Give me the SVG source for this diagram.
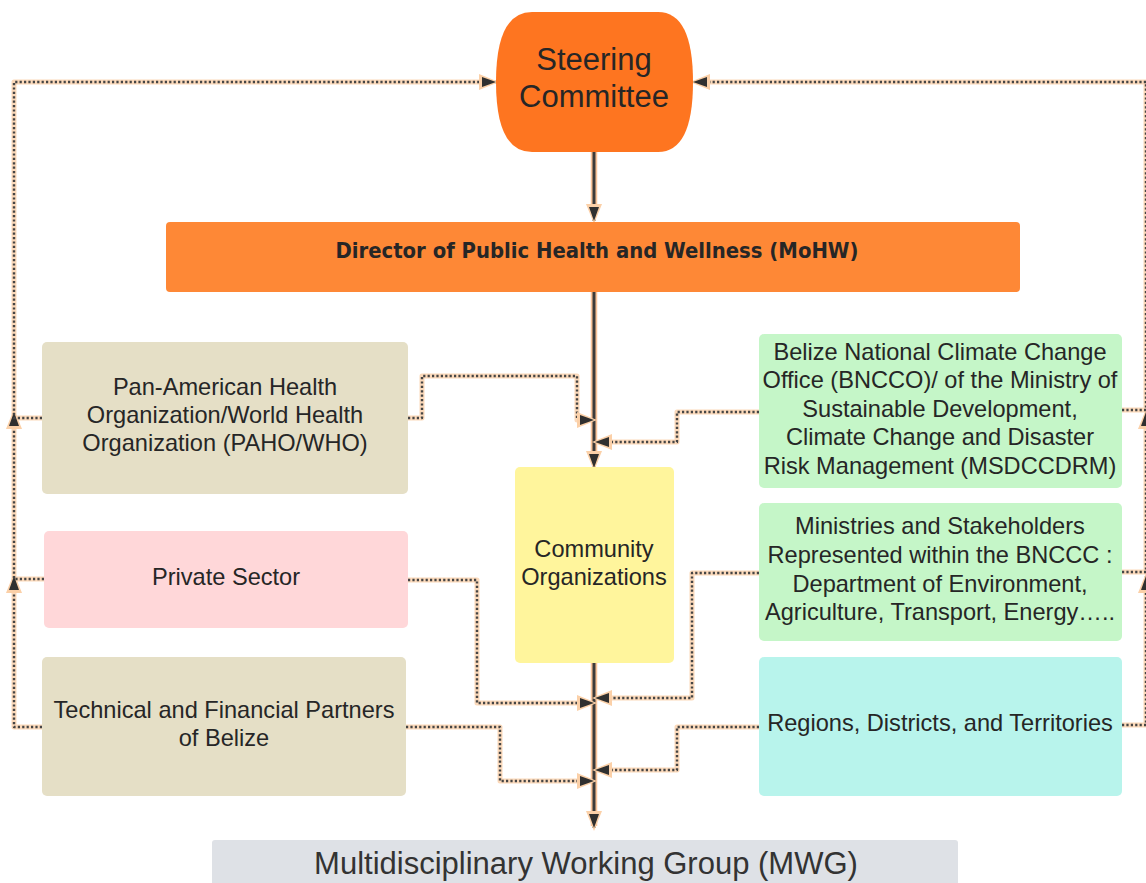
<svg xmlns="http://www.w3.org/2000/svg" width="1146" height="883" viewBox="0 0 1146 883">
<style>
.t{font-family:"Liberation Sans",Arial,sans-serif;font-size:23.6px;fill:#262626;text-anchor:middle}
.halo{fill:none;stroke:#FBD9BA;stroke-width:5;stroke-linejoin:round}
.dot{fill:none;stroke:#454545;stroke-width:2.4;stroke-dasharray:2.2 2.2;stroke-linejoin:round}
.solidhalo{fill:none;stroke:#F9C49A;stroke-width:6.5}
.solid{fill:none;stroke:#3b3b3b;stroke-width:3}
</style>
<defs>
<marker id="ah" markerUnits="userSpaceOnUse" markerWidth="20" markerHeight="16" refX="17" refY="8" orient="auto" viewBox="0 0 20 16">
<path d="M0,0 L20,8 L0,16 Z" fill="#FBD0A8"/>
<path d="M3,3 L17,8 L3,13 Z" fill="#303030"/>
</marker>
</defs>
<rect width="1146" height="883" fill="#ffffff"/>

<g id="connectors">
<path class="solidhalo" d="M594,152 V214"/>
<path class="solidhalo" d="M594,292 V462"/>
<path class="solidhalo" d="M594,663 V826"/>
<path class="halo" d="M42,727 H14 V580"/>
<path class="halo" d="M44,579 H14 V416"/>
<path class="halo" d="M42,418 H14 V82 H490"/>
<path class="halo" d="M1122,725 H1146 V580"/>
<path class="halo" d="M1122,572 H1146 V416"/>
<path class="halo" d="M1122,410 H1146 V82 H698"/>
<path class="halo" d="M408,418 H422 V376 H577 V420 H588"/>
<path class="halo" d="M759,412 H677 V442 H600"/>
<path class="halo" d="M408,580 H477 V703 H588"/>
<path class="halo" d="M759,573 H692 V698 H600"/>
<path class="halo" d="M406,727 H500 V781 H588"/>
<path class="halo" d="M759,727 H677 V770 H600"/>
<path class="solid" d="M594,152 V221" marker-end="url(#ah)"/>
<path class="solid" d="M594,292 V468" marker-end="url(#ah)"/>
<path class="solid" d="M594,663 V828" marker-end="url(#ah)"/>
<path class="dot" d="M42,727 H14 V576" marker-end="url(#ah)"/>
<path class="dot" d="M44,579 H14 V412" marker-end="url(#ah)"/>
<path class="dot" d="M42,418 H14 V82 H496" marker-end="url(#ah)"/>
<path class="dot" d="M1122,725 H1146 V576" marker-end="url(#ah)"/>
<path class="dot" d="M1122,572 H1146 V412" marker-end="url(#ah)"/>
<path class="dot" d="M1122,410 H1146 V82 H693" marker-end="url(#ah)"/>
<path class="dot" d="M408,418 H422 V376 H577 V420 H594" marker-end="url(#ah)"/>
<path class="dot" d="M759,412 H677 V442 H595" marker-end="url(#ah)"/>
<path class="dot" d="M408,580 H477 V703 H594" marker-end="url(#ah)"/>
<path class="dot" d="M759,573 H692 V698 H595" marker-end="url(#ah)"/>
<path class="dot" d="M406,727 H500 V781 H594" marker-end="url(#ah)"/>
<path class="dot" d="M759,727 H677 V770 H595" marker-end="url(#ah)"/>
</g>

<g id="steering">
<path d="M532,12 H658 Q693,12 693,82 Q693,152 658,152 H532 Q496,152 496,82 Q496,12 532,12 Z" fill="#FE7520"/>
<text class="t" x="594" y="70" style="font-size:31px">Steering</text>
<text class="t" x="594" y="107" style="font-size:31px">Committee</text>
</g>

<g id="director">
<rect x="166" y="222" width="854" height="70" rx="4" fill="#FE8836"/>
<text x="597" y="258" text-anchor="middle" font-family="'DejaVu Sans Condensed','DejaVu Sans',sans-serif" font-weight="bold" font-size="20.5" fill="#262626" textLength="523" lengthAdjust="spacingAndGlyphs">Director of Public Health and Wellness (MoHW)</text>
</g>

<g id="paho">
<rect x="42" y="342" width="366" height="152" rx="5" fill="#E5DFC6"/>
<text class="t" x="225" y="395">Pan-American Health</text>
<text class="t" x="225" y="423">Organization/World Health</text>
<text class="t" x="225" y="451">Organization (PAHO/WHO)</text>
</g>

<g id="private">
<rect x="44" y="531" width="364" height="97" rx="5" fill="#FFD7D9"/>
<text class="t" x="226" y="585">Private Sector</text>
</g>

<g id="technical">
<rect x="42" y="657" width="364" height="139" rx="5" fill="#E5DFC6"/>
<text class="t" x="224" y="718">Technical and Financial Partners</text>
<text class="t" x="224" y="746">of Belize</text>
</g>

<g id="community">
<rect x="515" y="467" width="159" height="196" rx="5" fill="#FFF59C"/>
<text class="t" x="594" y="557">Community</text>
<text class="t" x="594" y="585">Organizations</text>
</g>

<g id="bncco">
<rect x="759" y="334" width="363" height="154" rx="5" fill="#C5F6C8"/>
<text class="t" x="940" y="360">Belize National Climate Change</text>
<text class="t" x="940" y="388">Office (BNCCO)/ of the Ministry of</text>
<text class="t" x="940" y="417">Sustainable Development,</text>
<text class="t" x="940" y="445">Climate Change and Disaster</text>
<text class="t" x="940" y="474">Risk Management (MSDCCDRM)</text>
</g>

<g id="ministries">
<rect x="759" y="503" width="363" height="138" rx="5" fill="#C5F6C8"/>
<text class="t" x="940" y="534">Ministries and Stakeholders</text>
<text class="t" x="940" y="563">Represented within the BNCCC :</text>
<text class="t" x="940" y="592">Department of Environment,</text>
<text class="t" x="940" y="620">Agriculture, Transport, Energy…..</text>
</g>

<g id="regions">
<rect x="759" y="657" width="363" height="139" rx="5" fill="#B8F4EC"/>
<text class="t" x="940" y="731">Regions, Districts, and Territories</text>
</g>

<g id="mwg">
<rect x="212" y="840" width="746" height="60" rx="3" fill="#DEE1E6"/>
<text class="t" x="586" y="874" style="font-size:31px;fill:#333">Multidisciplinary Working Group (MWG)</text>
</g>
</svg>
